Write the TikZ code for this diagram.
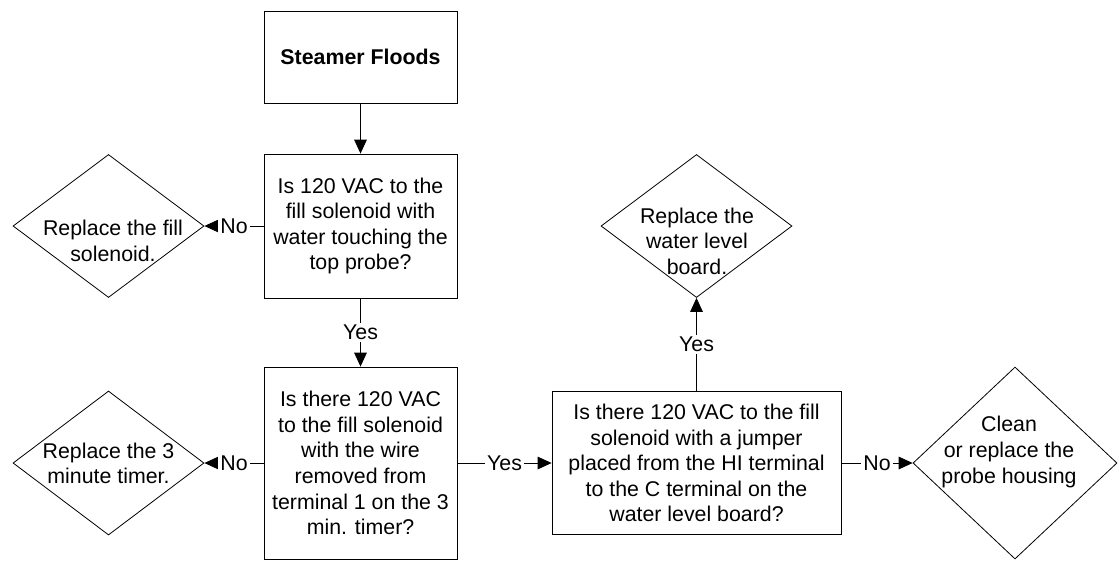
\documentclass[tikz,border=0pt]{standalone}
\usepackage{fontspec}
\setmainfont{Liberation Sans}
\usetikzlibrary{shapes.geometric,arrows.meta}

\begin{document}
\begin{tikzpicture}[x=0.75pt,y=-0.75pt]
		\useasboundingbox (0,0) rectangle (1119,562);
		\begin{scope}
			[
				styleBox/.style={
					minimum width = 144.75pt, draw, rectangle,
					align=center, inner sep=0pt, line width=0.6pt,
					font=\fontsize{16pt}{19.2pt}\selectfont
					},
				styleChoice/.style={minimum width = 143.25pt, minimum height = 107.25pt,
					draw, diamond, inner sep=0pt, line width=0.6pt},
				styleText/.style={align=center, inner sep=0pt,
					font=\fontsize{16pt}{19.2pt}\selectfont},
			]
			\node(flood)[styleBox, minimum height=69pt] at (360.5,57) {\textbf{Steamer Floods}};
			\node(q1)[styleBox, minimum height=108pt] at (360.5,226) {Is 120 VAC to the\\fill solenoid with\\water touching the\\top probe?};
			\node(q2)[styleBox, minimum height=144pt] at (360.5,463) {Is there 120 VAC\\to the fill solenoid\\with the wire\\removed from\\terminal 1 on the 3\\min. timer?};
			\node(q3)[styleBox, minimum width=216.75pt, minimum height=107.25pt] at (696.5,463) {Is there 120 VAC to the fill\\solenoid with a jumper\\placed from the HI terminal\\to the C terminal on the\\water level board?};

			\node(r1)[styleChoice] at (108.5,226) {};
			\node(r1txt)[styleText] at (113,241) {Replace the fill\\solenoid.};
			\node(r2)[styleChoice, minimum height=108pt] at (108.5,463) {};
			\node(r2txt)[styleText] at (108.5,463.5) {Replace the 3\\minute timer.};
			\node(r3)[styleChoice] at (696.5,226) {};
			\node(r3txt)[styleText] at (697,241) {Replace the\\water level\\board.};
			\node(r4)[styleChoice, minimum width=153pt, minimum height=144pt] at (1015,463) {};
			\node(r4txt)[styleText] at (1009,452) {Clean\\or replace the\\probe housing};
		\end{scope}

		\begin{scope}
			[ answer/.style = {-{Triangle[length=10.5pt,width=9.5pt]}, line width=0.6pt},
				styleLabel/.style = {midway, fill=white, inner sep=1.5pt,
					font=\fontsize{16pt}{19.2pt}\selectfont}]
			\path
			(flood) edge[answer]				(q1)
			(q1) edge[answer]					node[styleLabel]{No}(r1)
			(q1) edge[answer]					node[styleLabel]{Yes}(q2)
			(q2) edge[answer]					node[styleLabel]{No}(r2)
			(q2) edge[answer]					node[styleLabel]{Yes}(q3)
			(q3) edge[answer]					node[styleLabel]{Yes}(r3)
			(q3) edge[answer]					node[styleLabel]{No}(r4);
		\end{scope}
	\end{tikzpicture}
\end{document}
